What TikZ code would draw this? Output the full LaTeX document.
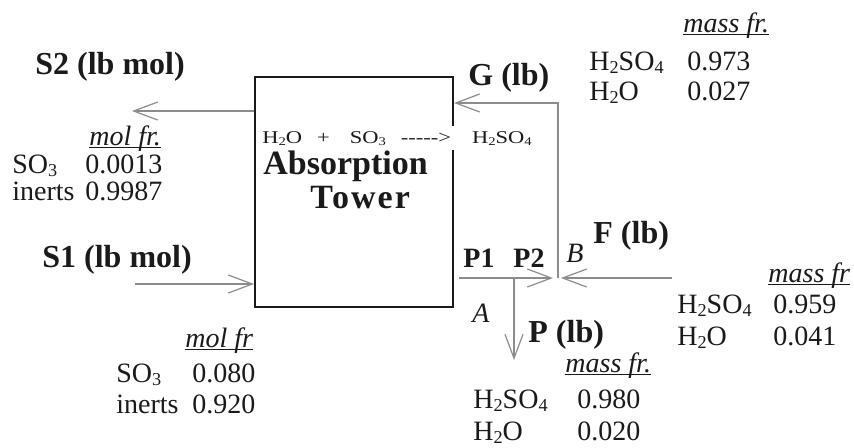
\documentclass[tikz,border=0pt]{standalone}
\usepackage{fontspec}
\setmainfont{Liberation Serif}
\usepackage{xcolor}
\definecolor{twink}{HTML}{1A1A1A}
\definecolor{twline}{HTML}{8C8C8C}
\usetikzlibrary{arrows.meta}

\newcommand\valfont{\fontsize{14}{16}\selectfont}
\newcommand\tagfont{\fontsize{16}{18}\selectfont\bfseries}
\newcommand\hdr[1]{\setbox0=\hbox{\textit{#1}}\rlap{\copy0}\rule[-1.3pt]{\wd0}{0.5pt}}
\newcommand\dn[1]{\raisebox{-0.12em}{\scalebox{0.65}{#1}}}
\newcommand\hso{H\dn{2}SO\dn{4}}
\newcommand\hho{H\dn{2}O}
\newcommand\sot{SO\dn{3}}

\begin{document}
\begin{tikzpicture}[
      x=0.5pt, y=-0.5pt,
      lbl/.style={font=\tagfont, text=twink, inner sep=0pt, anchor=base west},
      val/.style={font=\valfont, text=twink, inner sep=0pt, anchor=base west},
      tag/.style={font=\valfont\itshape, text=twink, inner sep=0pt, anchor=base west},
      unit/.style={draw=twink, line width=1pt, minimum width=99pt,
                   minimum height=115pt, inner sep=0pt},
      flow/.style={-{Straight Barb[length=12pt,width=9pt]}, draw=twline,
                   line width=0.6pt},
    ]
    \useasboundingbox (0,0) rectangle (854,447);

    \node[unit] (tower) at (354,192) {};
    \node[val, font=\fontsize{17}{19}\selectfont\bfseries] (absorb) at (263,174) {Absorption};
    \node[val, font=\fontsize{17}{19}\selectfont\bfseries] (towertxt) at (310,208)
      {\addfontfeature{LetterSpace=6}Tower};

    % junction points
    \coordinate (s2end)   at (132,111);
    \coordinate (s1start) at (135,284);
    \coordinate (gturn)   at (558,103);
    \coordinate (mix)     at (558,278);
    \coordinate (fstart)  at (672,278);
    \coordinate (split)   at (514,278);
    \coordinate (pend)    at (514,360);

    \draw[flow] (tower.west |- s2end) -- (s2end);
    \draw[flow] (s1start) -- (tower.west |- s1start);
    \draw[flow] (mix) -- (gturn) -- (tower.east |- gturn);
    \draw[flow, shorten <=2.5pt, shorten >=2.5pt] (tower.east |- mix) -- (mix);
    \draw[flow, shorten >=1.5pt] (fstart) -- (mix);
    \draw[flow] (split) -- (pend);

    % reaction line, over the box edge
    \node[val, font=\fontsize{9}{10}\selectfont, fill=white, inner xsep=1.5pt,
          inner ysep=2.5pt] (rxn) at (259,143)
      {\scalebox{1.25}[1]{\hho\hspace{6pt}+\hspace{8pt}\sot\hspace{6pt}-{}-{}-{}-{}->\hspace{8.4pt}\hso}};

    % stream names
    \node[lbl] (s2lbl) at (35,74)  {S2 (lb mol)};
    \node[lbl] (s1lbl) at (42,267) {S1 (lb mol)};
    \node[lbl] (glbl)  at (468,85) {G (lb)};
    \node[lbl] (flbl)  at (593,243) {F (lb)};
    \node[lbl] (plbl)  at (528,342) {P (lb)};
    \node[lbl, font=\fontsize{14}{16}\selectfont\bfseries] (p1lbl) at (463,267) {P1};
    \node[lbl, font=\fontsize{14}{16}\selectfont\bfseries] (p2lbl) at (513,267) {P2};
    \node[tag] (atag) at (472,322) {A};
    \node[tag] (btag) at (566,262) {B};

    % S2 composition
    \node[val] (s2hdr) at (89,145)  {\hdr{mol fr.}};
    \node[val] (s2so)  at (12,173)  {\sot};
    \node[val] (s2sov) at (85,173)  {0.0013};
    \node[val] (s2in)  at (12,200)  {inerts};
    \node[val] (s2inv) at (85,200)  {0.9987};

    % S1 composition
    \node[val] (s1hdr) at (185,347) {\hdr{mol fr}};
    \node[val] (s1so)  at (116,382) {\sot};
    \node[val] (s1sov) at (192,382) {0.080};
    \node[val] (s1in)  at (116,413) {inerts};
    \node[val] (s1inv) at (192,413) {0.920};

    % G composition
    \node[val] (ghdr)  at (683,32)  {\hdr{mass fr.}};
    \node[val] (gac)   at (589,70)  {\hso};
    \node[val] (gacv)  at (687,70)  {0.973};
    \node[val] (gwa)   at (589,100) {\hho};
    \node[val] (gwav)  at (687,100) {0.027};

    % F composition
    \node[val] (fhdr)  at (768,282) {\hdr{mass fr}};
    \node[val] (fac)   at (677,313) {\hso};
    \node[val] (facv)  at (773,313) {0.959};
    \node[val] (fwa)   at (677,345) {\hho};
    \node[val] (fwav)  at (773,345) {0.041};

    % P composition
    \node[val] (phdr)  at (565,372) {\hdr{mass fr.}};
    \node[val] (pac)   at (473,408) {\hso};
    \node[val] (pacv)  at (577,408) {0.980};
    \node[val] (pwa)   at (473,440) {\hho};
    \node[val] (pwav)  at (577,440) {0.020};

  \end{tikzpicture}
\end{document}
